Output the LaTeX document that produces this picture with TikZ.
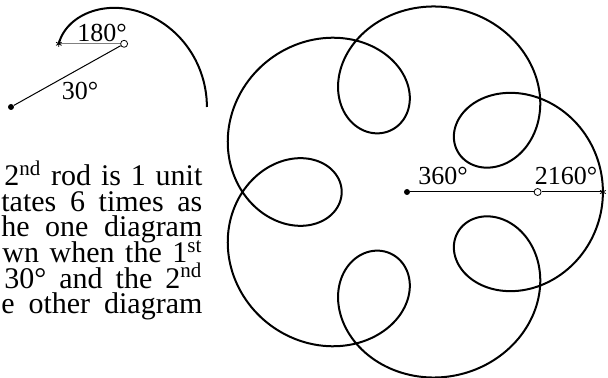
\documentclass[tikz,border=0pt]{standalone}
\usepackage{fontspec}
\setmainfont{Liberation Serif}
\usetikzlibrary{calc,plotmarks}
\tikzset{
  curve/.style={line width=1pt},
  rod/.style={line width=0.5pt},
  fixpt/.style={circle, fill, inner sep=0pt, minimum size=3pt},
  joint/.style={circle, draw, fill=white, inner sep=0pt, minimum size=3.5pt,
                line width=0.4pt},
  tipmk/.style={only marks, mark=asterisk, mark size=1.6pt,
                mark options={line width=0.4pt}},
  lbl/.style={font=\fontsize{13}{15}\selectfont, inner sep=0pt, anchor=base},
  txt/.style={font=\fontsize{15}{16}\selectfont, inner sep=0pt,
              anchor=base west}
}

\begin{document}
\begin{tikzpicture}[x=0.5pt,y=-0.5pt]
  \useasboundingbox (0,0) rectangle (608,378);

  % small diagram: 1st rod at 30 deg, 2nd rod at 180 deg
  \begin{scope}[shift={(11,107)},x=32.65pt,y=31.6pt]
    \draw[curve] plot[domain=0:30,samples=60,smooth]
      ({2*cos(\x)+cos(6*\x)},{2*sin(\x)+sin(6*\x)});
    \node[fixpt] (o1) at (0,0) {};
    \node[joint] (j1) at (30:2) {};
    \coordinate (p1) at ({2*cos(30)-1},1);
    \draw[rod] (o1) -- (j1);
    \draw[rod, gray] (j1) -- (p1);
    \path plot[tipmk] coordinates {(p1)};
  \end{scope}
  \node[lbl] (l180) at (102,42) {180°};
  \node[lbl] (l30) at (80,100) {30°};

  % big diagram: the whole curve
  \begin{scope}[shift={(407,192)},x=32.65pt,y=31.6pt]
    \draw[curve] plot[domain=0:360,samples=721,smooth]
      ({2*cos(\x)+cos(6*\x)},{2*sin(\x)+sin(6*\x)});
    \node[fixpt] (o2) at (0,0) {};
    \node[joint] (j2) at (2,0) {};
    \coordinate (p2) at (3,0);
    \draw[rod] (o2) -- (j2) -- (p2);
    \path plot[tipmk] coordinates {(p2)};
  \end{scope}
  \node[lbl] (l360) at (443,185) {360°};
  \node[lbl] (l2160) at (566,185) {2160°};

  % text cut at the left edge
  \node[txt] (t1) at (4,186) {\makebox[99pt][s]{2\textsuperscript{nd} rod is 1 unit}};
  \node[txt] (t2) at (1,211.5) {\makebox[100.5pt][s]{tates 6 times as}};
  \node[txt] (t3) at (1,237) {\makebox[100.5pt][s]{he one diagram}};
  \node[txt] (t4) at (2,262.5) {\makebox[100pt][s]{wn when the 1\textsuperscript{st}}};
  \node[txt] (t5) at (4,288) {\makebox[99pt][s]{30° and the 2\textsuperscript{nd}}};
  \node[txt] (t6) at (1,313.5) {\makebox[100.5pt][s]{e other diagram}};
\end{tikzpicture}
\end{document}
